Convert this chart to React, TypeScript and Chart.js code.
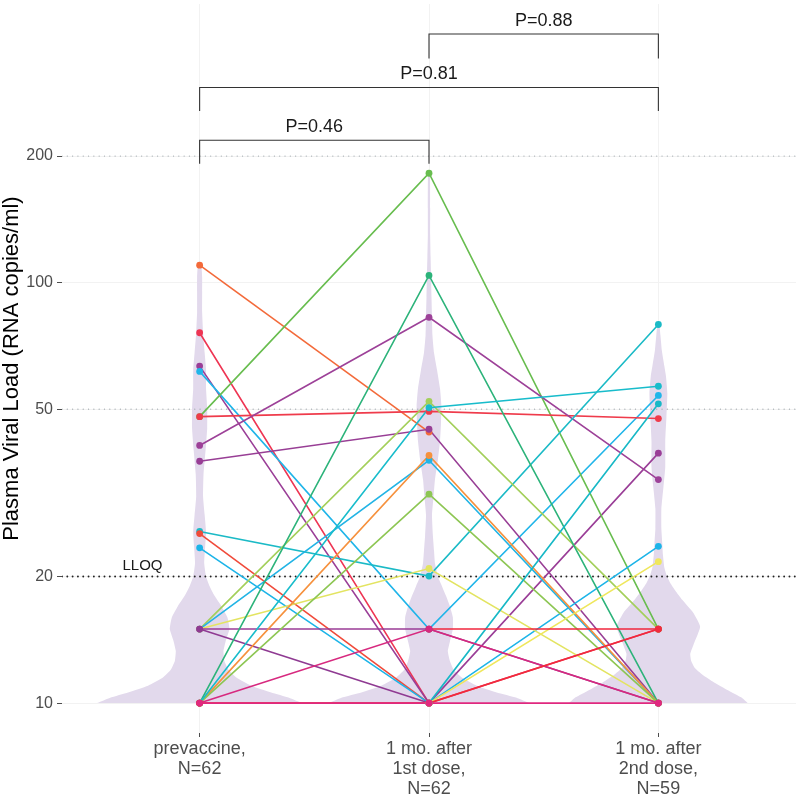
import React, { useEffect, useRef } from "react";
import { Chart, registerables } from "chart.js";

Chart.register(...registerables);

const FONT = '"Liberation Sans", Arial, Helvetica, sans-serif';

// ---- categories / ticks ----
const categories = [
  ["prevaccine,", "N=62"],
  ["1 mo. after", "1st dose,", "N=62"],
  ["1 mo. after", "2nd dose,", "N=59"],
];
const categoryPositions = [1, 2, 3];
const yTicks = [10, 20, 50, 100, 200];
const yTitle = "Plasma Viral Load (RNA copies/ml)";

// ---- subjects (one entry per connected line) ----
const prevaccine = [110, 76, 63.3, 61.5, 48, 48, 41, 37.6, 25.6, 25.3, 23.4, 15, 15, 15, 15, 15, 10, 10, 10, 10, 10, 10, null, 10, 10, 10];
const afterDose1 = [44.1, 10, 10, 15, 182, 49.4, 82.7, 44.8, 20.05, 10, 10, 52.2, 37.8, 20.9, 15, 10, 104, 38.8, 31.4, 50.4, 10, 10, 15, 15, 10, 10];
const afterDose2 = [null, 15, 39.3, 53.9, 15, 47.5, 34, 10, 79.5, null, 23.6, 15, 10, 10, 10, null, 10, 10, 10, 56.7, 51.5, 21.7, 15, 10, 15, 10];
const subjectColors = [
  "#F36A3A", "#EE3553", "#9A3E97", "#20B5E9", "#68BD4F", "#EF3B4B", "#9D4198", "#983E95",
  "#1BBAC6", "#F04A3A", "#1CB4E8", "#A3CF5A", "#22B4E5", "#E3E461", "#9A3D97", "#8F3A92",
  "#2CB37A", "#F6913D", "#8DC653", "#18BCCB", "#17B8C6", "#EFE75C", "#F0263C", "#D7297F",
  "#F12A3E", "#E0287F",
];

// ---- violin outlines: value levels and half widths (category units) ----
const violinLevels1 = [10, 10.3, 10.6, 11, 11.5, 12, 12.6, 13.3, 14, 15, 16, 17, 18, 19, 20, 21.5, 23.5, 25.5, 28, 31, 35, 40, 45, 50, 56, 62, 68, 76, 85, 95, 103, 110];
const violinWidths1 = [0.447, 0.39, 0.312, 0.225, 0.16, 0.126, 0.108, 0.104, 0.113, 0.13, 0.121, 0.095, 0.065, 0.043, 0.028, 0.02, 0.024, 0.028, 0.022, 0.015, 0.017, 0.026, 0.033, 0.033, 0.028, 0.028, 0.022, 0.015, 0.011, 0.011, 0.011, 0.007];
const violinLevels2 = [10, 10.3, 10.6, 11, 11.5, 12, 12.6, 13.3, 14, 15, 16, 17, 18, 19, 20, 21.5, 23, 25, 28, 31, 34, 38, 42, 46, 51, 56, 62, 68, 75, 83, 92, 104, 115, 130, 150, 182];
const violinWidths2 = [0.438, 0.382, 0.295, 0.208, 0.143, 0.108, 0.091, 0.082, 0.091, 0.104, 0.104, 0.091, 0.074, 0.056, 0.039, 0.026, 0.022, 0.017, 0.013, 0.02, 0.026, 0.039, 0.048, 0.052, 0.054, 0.048, 0.035, 0.022, 0.015, 0.013, 0.011, 0.009, 0.007, 0.005, 0.005, 0.004];
const violinLevels3 = [10, 10.3, 10.6, 11.2, 11.7, 12.1, 12.6, 13.1, 13.9, 15.2, 16.4, 17.6, 18.5, 19.3, 20.2, 21, 22.5, 24, 26, 29, 32.6, 36.4, 42, 47.7, 54.5, 60, 63.3, 69, 75, 79.5];
const violinWidths3 = [0.39, 0.364, 0.321, 0.243, 0.191, 0.16, 0.143, 0.139, 0.156, 0.182, 0.152, 0.104, 0.074, 0.052, 0.035, 0.026, 0.02, 0.017, 0.013, 0.013, 0.022, 0.03, 0.03, 0.035, 0.039, 0.033, 0.026, 0.015, 0.009, 0.004];

// ---- reference lines ----
const dottedRefValues = [50, 200];
const lloqValue = 20;
const lloqLabel = "LLOQ";
const lloqLabelX = 0.751;
const lloqLabelY = 21.2;

// ---- significance brackets ----
const bracketFrom = [1, 1, 2];
const bracketTo = [2, 3, 3];
const bracketLow = [191.8, 256, 341];
const bracketHigh = [218, 291, 390];
const bracketText = ["P=0.46", "P=0.81", "P=0.88"];
const bracketTextY = [235, 314, 418];

const X_MIN = 0.4;
const X_MAX = 3.6;
const Y_MIN = 8.49;
const Y_MAX = 459.8;

function violinOutline(center: number, levels: number[], widths: number[]) {
  const right = levels.map((v, i) => ({ x: center + widths[i], y: v }));
  const left = levels.map((v, i) => ({ x: center - widths[i], y: v })).reverse();
  return [...right, ...left];
}

const annotationPlugin = {
  id: "annotTexts",
  afterDatasetsDraw(chart: any) {
    const { ctx, scales } = chart;
    const x = scales.x;
    const y = scales.y;
    ctx.save();
    ctx.fillStyle = "#1a1a1a";
    ctx.textAlign = "center";
    ctx.textBaseline = "middle";
    ctx.font = `18px ${FONT}`;
    bracketText.forEach((t, i) => {
      ctx.fillText(t, x.getPixelForValue((bracketFrom[i] + bracketTo[i]) / 2), y.getPixelForValue(bracketTextY[i]));
    });
    ctx.font = `15px ${FONT}`;
    ctx.fillText(lloqLabel, x.getPixelForValue(lloqLabelX), y.getPixelForValue(lloqLabelY));
    ctx.restore();
  },
};

export default function App() {
  const canvasRef = useRef<HTMLCanvasElement | null>(null);

  useEffect(() => {
    if (!canvasRef.current) return;
    Chart.defaults.font.family = FONT;
    const datasets: any[] = [];

    const violinColor = "rgb(226,217,236)";
    [
      [violinLevels1, violinWidths1],
      [violinLevels2, violinWidths2],
      [violinLevels3, violinWidths3],
    ].forEach(([lv, wd], i) => {
      datasets.push({
        data: violinOutline(categoryPositions[i], lv as number[], wd as number[]),
        fill: "shape",
        backgroundColor: violinColor,
        borderColor: "rgba(0,0,0,0)",
        borderWidth: 0,
        pointRadius: 0,
        tension: 0.15,
        order: 1000,
      });
    });

    dottedRefValues.forEach((v) => {
      datasets.push({
        data: [{ x: X_MIN, y: v }, { x: X_MAX, y: v }],
        borderColor: "#a3abb0",
        borderWidth: 1.3,
        borderDash: [0.01, 5.3],
        borderCapStyle: "round",
        pointRadius: 0,
        fill: false,
        order: 900,
      });
    });
    datasets.push({
      data: [{ x: X_MIN, y: lloqValue }, { x: X_MAX, y: lloqValue }],
      borderColor: "#222222",
      borderWidth: 1.9,
      borderDash: [0.01, 5.3],
      borderCapStyle: "round",
      pointRadius: 0,
      fill: false,
      order: 890,
    });

    bracketFrom.forEach((f, i) => {
      datasets.push({
        data: [
          { x: f, y: bracketLow[i] },
          { x: f, y: bracketHigh[i] },
          { x: bracketTo[i], y: bracketHigh[i] },
          { x: bracketTo[i], y: bracketLow[i] },
        ],
        borderColor: "#333333",
        borderWidth: 1.1,
        pointRadius: 0,
        fill: false,
        order: 800,
      });
    });

    const n = prevaccine.length;
    for (let i = 0; i < n; i++) {
      const pts = [
        { x: categoryPositions[0], y: prevaccine[i] },
        { x: categoryPositions[1], y: afterDose1[i] },
        { x: categoryPositions[2], y: afterDose2[i] },
      ];
      datasets.push({
        data: pts,
        borderColor: subjectColors[i],
        borderWidth: 1.6,
        pointRadius: 0,
        fill: false,
        spanGaps: false,
        order: 500 + (n - 1 - i),
      });
      datasets.push({
        data: pts,
        showLine: false,
        pointRadius: 3.4,
        pointBackgroundColor: subjectColors[i],
        pointBorderWidth: 0,
        pointBorderColor: subjectColors[i],
        order: 100 + (n - 1 - i),
      });
    }

    const chart = new Chart(canvasRef.current, {
      type: "line",
      data: { datasets },
      options: {
        animation: false,
        responsive: false,
        maintainAspectRatio: false,
        events: [],
        layout: { padding: 0 },
        plugins: { legend: { display: false }, tooltip: { enabled: false } },
        scales: {
          x: {
            type: "linear",
            min: X_MIN,
            max: X_MAX,
            afterBuildTicks: (s: any) => {
              s.ticks = categoryPositions.map((v) => ({ value: v }));
            },
            afterFit: (s: any) => {
              s.height = 63;
              s.paddingLeft = 0;
              s.paddingRight = 0;
              s.paddingTop = 0;
              s.paddingBottom = 0;
            },
            ticks: {
              callback: (_v: any, idx: number) => categories[idx],
              font: { size: 18, family: FONT, lineHeight: 1.111 },
              color: "#4d4d4d",
              padding: 2,
              maxRotation: 0,
              autoSkip: false,
            },
            grid: { color: "#f2f2f2", tickColor: "#4d4d4d", tickLength: 4, tickWidth: 1 },
            border: { display: false },
          },
          y: {
            type: "logarithmic",
            min: Y_MIN,
            max: Y_MAX,
            afterBuildTicks: (s: any) => {
              s.ticks = yTicks.map((v) => ({ value: v }));
            },
            afterFit: (s: any) => {
              s.width = 62;
              s.paddingLeft = 0;
              s.paddingRight = 0;
              s.paddingTop = 0;
              s.paddingBottom = 0;
            },
            ticks: {
              callback: (v: any) => String(v),
              font: { size: 16, family: FONT },
              color: "#4d4d4d",
              padding: 4,
              autoSkip: false,
            },
            grid: { color: "#f2f2f2", tickColor: "#4d4d4d", tickLength: 5, tickWidth: 1 },
            border: { display: false },
            title: {
              display: true,
              text: yTitle,
              font: { size: 22, family: FONT },
              color: "#000000",
              padding: { top: -1, bottom: 0 },
            },
          },
        },
      } as any,
      plugins: [annotationPlugin],
    });

    return () => chart.destroy();
  }, []);

  return (
    <div style={{ position: "absolute", left: 0, top: 0, width: 800, height: 796, background: "#fff" }}>
      <canvas ref={canvasRef} width={800} height={796} style={{ display: "block" }} />
    </div>
  );
}
